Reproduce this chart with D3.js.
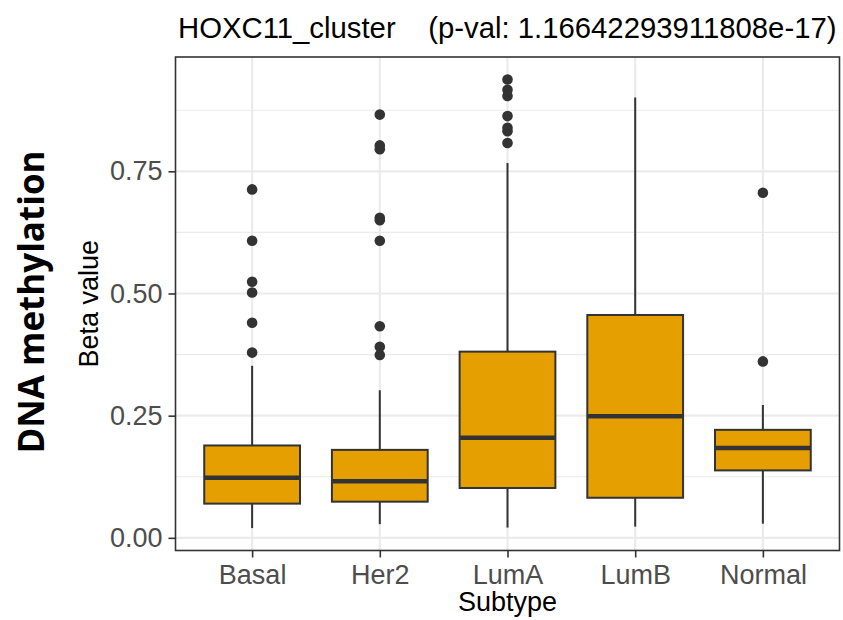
<!DOCTYPE html>
<html>
<head>
<meta charset="utf-8">
<script src="https://cdn.jsdelivr.net/npm/d3@7"></script>
<style>
  body { margin: 0; background: #fff; }
  text { font-family: "Liberation Sans", Arial, sans-serif; }
</style>
</head>
<body>
<div id="chart"></div>
<script>
// values
const subtypes = ['Basal', 'Her2', 'LumA', 'LumB', 'Normal'];
const whiskerLow = [0.020, 0.028, 0.021, 0.023, 0.029];
const q1 = [0.070, 0.074, 0.102, 0.082, 0.138];
const medians = [0.123, 0.116, 0.205, 0.249, 0.184];
const q3 = [0.189, 0.180, 0.381, 0.456, 0.221];
const whiskerHigh = [0.352, 0.302, 0.767, 0.901, 0.272];
const outliers = [
  [0.713, 0.608, 0.524, 0.502, 0.440, 0.379],
  [0.866, 0.803, 0.795, 0.655, 0.650, 0.608, 0.433, 0.391, 0.374],
  [0.938, 0.917, 0.904, 0.863, 0.839, 0.832, 0.808],
  [],
  [0.706, 0.361]
];
const yTicks = [0, 0.25, 0.5, 0.75];
const yMinor = [0.125, 0.375, 0.625, 0.875];
const pval = '1.16642293911808e-17';

const width = 843, height = 620;
const panel = { left: 175.5, right: 839.5, top: 57, bottom: 550.5 };

const svg = d3.select('#chart').append('svg')
  .attr('width', width)
  .attr('height', height);

// y range: data extent + 5% like ggplot
const allVals = whiskerLow.concat(whiskerHigh, outliers.flat());
const [lo, hi] = d3.extent(allVals);
const pad = (hi - lo) * 0.05;

const y = d3.scaleLinear()
  .domain([lo - pad, hi + pad])
  .range([panel.bottom, panel.top]);

const x = d3.scalePoint()
  .domain(subtypes)
  .range([panel.left, panel.right])
  .padding(0.6);

const boxW = x.step() * 0.75;

// grid
const grid = svg.append('g');
grid.selectAll('.minor').data(yMinor).enter().append('line')
  .attr('x1', panel.left).attr('x2', panel.right)
  .attr('y1', d => y(d)).attr('y2', d => y(d))
  .attr('stroke', '#ebebeb').attr('stroke-width', 1.1);
grid.selectAll('.major').data(yTicks).enter().append('line')
  .attr('x1', panel.left).attr('x2', panel.right)
  .attr('y1', d => y(d)).attr('y2', d => y(d))
  .attr('stroke', '#ebebeb').attr('stroke-width', 2.2);
grid.selectAll('.vmajor').data(subtypes).enter().append('line')
  .attr('x1', d => x(d)).attr('x2', d => x(d))
  .attr('y1', panel.top).attr('y2', panel.bottom)
  .attr('stroke', '#ebebeb').attr('stroke-width', 2.2);

// boxes
const ink = '#333333';
const boxes = svg.append('g').selectAll('g').data(subtypes).enter().append('g');

boxes.append('line')
  .attr('x1', d => x(d)).attr('x2', d => x(d))
  .attr('y1', (d, i) => y(whiskerHigh[i])).attr('y2', (d, i) => y(q3[i]))
  .attr('stroke', ink).attr('stroke-width', 2);
boxes.append('line')
  .attr('x1', d => x(d)).attr('x2', d => x(d))
  .attr('y1', (d, i) => y(q1[i])).attr('y2', (d, i) => y(whiskerLow[i]))
  .attr('stroke', ink).attr('stroke-width', 2);
boxes.append('rect')
  .attr('x', d => x(d) - boxW / 2)
  .attr('width', boxW)
  .attr('y', (d, i) => y(q3[i]))
  .attr('height', (d, i) => y(q1[i]) - y(q3[i]))
  .attr('fill', '#E69F00')
  .attr('stroke', ink).attr('stroke-width', 2);
boxes.append('line')
  .attr('x1', d => x(d) - boxW / 2).attr('x2', d => x(d) + boxW / 2)
  .attr('y1', (d, i) => y(medians[i])).attr('y2', (d, i) => y(medians[i]))
  .attr('stroke', ink).attr('stroke-width', 4.5);

boxes.each(function (d, i) {
  d3.select(this).selectAll('circle').data(outliers[i]).enter().append('circle')
    .attr('cx', x(d))
    .attr('cy', v => y(v))
    .attr('r', 5.3)
    .attr('fill', ink);
});

// panel border
svg.append('rect')
  .attr('x', panel.left).attr('y', panel.top)
  .attr('width', panel.right - panel.left)
  .attr('height', panel.bottom - panel.top)
  .attr('fill', 'none')
  .attr('stroke', '#333333').attr('stroke-width', 1.6);

// axes
const yAxis = svg.append('g')
  .attr('transform', `translate(${panel.left},0)`)
  .call(d3.axisLeft(y).tickValues(yTicks).tickFormat(d3.format('.2f')).tickSizeInner(7).tickSizeOuter(0).tickPadding(6));
const xAxis = svg.append('g')
  .attr('transform', `translate(0,${panel.bottom})`)
  .call(d3.axisBottom(x).tickSizeInner(7).tickSizeOuter(0).tickPadding(7));

[yAxis, xAxis].forEach(ax => {
  ax.select('.domain').remove();
  ax.selectAll('.tick line').attr('stroke', '#333333').attr('stroke-width', 1.6);
  ax.selectAll('.tick text')
    .attr('fill', '#4d4d4d')
    .style('font-family', '"Liberation Sans", Arial, sans-serif')
    .style('font-size', '27px');
});

// titles
svg.append('text')
  .attr('x', 178).attr('y', 38)
  .attr('fill', '#000')
  .style('font-size', '29.3px')
  .style('white-space', 'pre')
  .text('HOXC11_cluster    (p-val: ' + pval + ')');

svg.append('text')
  .attr('x', (panel.left + panel.right) / 2).attr('y', 611)
  .attr('text-anchor', 'middle')
  .style('font-size', '27px')
  .text('Subtype');

svg.append('text')
  .attr('transform', `translate(98,${(panel.top + panel.bottom) / 2}) rotate(-90)`)
  .attr('text-anchor', 'middle')
  .style('font-size', '27px')
  .text('Beta value');

svg.append('text')
  .attr('transform', `translate(44,302) rotate(-90)`)
  .attr('text-anchor', 'middle')
  .style('font-family', '"Open Sans", "Noto Sans", sans-serif')
  .style('font-weight', 'bold')
  .style('font-size', '35px')
  .text('DNA methylation');
</script>
</body>
</html>
